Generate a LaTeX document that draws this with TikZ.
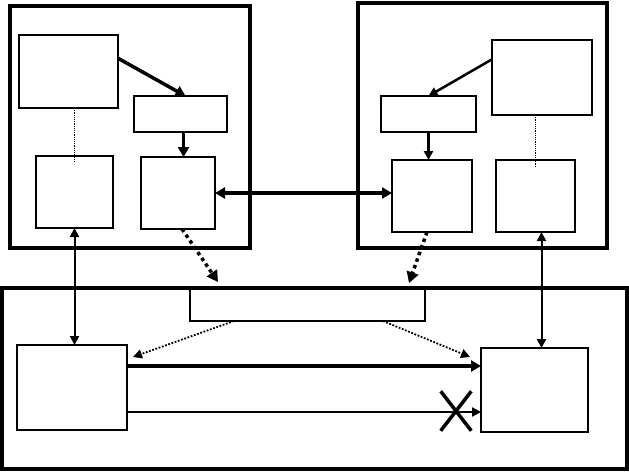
\documentclass[tikz,border=0pt]{standalone}
\usepackage{amsmath, amssymb}
\usepackage{xcolor}
\usetikzlibrary{arrows.meta, shapes.misc}

\begin{document}
\begin{tikzpicture}[x=1pt, y=-1pt,
  box/.style={draw, line width=1.8pt, inner sep=0pt, outer sep=0pt},
  outer/.style={draw, line width=4.5pt, inner sep=0pt, outer sep=0pt},
  bigtip/.style={-{Triangle[width=11pt,length=10pt]}},
  smalltip/.style={-{Triangle[width=9pt,length=9pt]}},
  bothtip/.style={{Triangle[width=9pt,length=9pt]}-{Triangle[width=9pt,length=9pt]}},
  fine dots/.style={line width=1.2pt, dash pattern=on 1.2pt off 1pt}]
\useasboundingbox (0,0) rectangle (629,472);
% the three frames
\node[outer, minimum width=240, minimum height=242] (left) at (130,127) {};
\node[outer, minimum width=249, minimum height=245] (right) at (482.5,125.5) {};
\node[outer, minimum width=625, minimum height=181] (bottom) at (314.5,378.5) {};
% left frame
\node[box, minimum width=99, minimum height=73] (A1) at (68.5,71.5) {};
\node[box, minimum width=93, minimum height=36] (B1) at (180.5,114) {};
\node[box, minimum width=77, minimum height=72] (C1) at (74.5,192) {};
\node[box, minimum width=74, minimum height=72] (D1) at (178,193) {};
% right frame
\node[box, minimum width=100, minimum height=75] (A2) at (542,77.5) {};
\node[box, minimum width=95, minimum height=36] (B2) at (428.5,114) {};
\node[box, minimum width=80, minimum height=72] (D2) at (432,196) {};
\node[box, minimum width=79, minimum height=72] (C2) at (535.5,196) {};
% bottom frame
\node[box, minimum width=235, minimum height=33] (M) at (307.5,304.5) {};
\node[box, minimum width=110, minimum height=85] (L) at (72,387.5) {};
\node[box, minimum width=107, minimum height=84] (R) at (534.5,390) {};
\coordinate (L1) at ([yshift=-21pt]L.north east);
\coordinate (L2) at ([yshift=-67pt]L.north east);
% connectors inside the frames
\draw[bigtip, line width=3.5pt] (A1.15) -- ([xshift=5pt]B1.north);
\draw[bigtip, line width=3.5pt] ([xshift=3pt]B1.south) -- ([xshift=3pt]B1.south |- D1.north);
\draw[{Triangle[width=11pt,length=10pt]}-{Triangle[width=11pt,length=10pt]}, line width=3.5pt] (D1.east) -- (D2.west |- D1.east);
\draw[smalltip, line width=2.5pt] (A2.160) -- (B2.north);
\draw[smalltip, line width=2.5pt] (B2.south) -- (B2.south |- D2.north);
\draw[fine dots] (C1.north |- A1.south) -- ([yshift=-5pt]C1.north);
\draw[fine dots] (C2.north |- A2.south) -- ([yshift=-7pt]C2.north);
% connectors down to the bottom frame
\draw[bothtip, line width=2pt] (C1.south) -- (C1.south |- L.north);
\draw[bothtip, line width=2pt] ([xshift=6pt]C2.south) -- ([xshift=6pt]C2.south |- R.north);
\draw[-{Triangle[width=12pt,length=11pt]}, line width=3.5pt, dash pattern=on 3.5pt off 3.5pt] ([xshift=4pt]D1.south) -- ([shift={(28,-6)}]M.north west);
\draw[-{Triangle[width=12pt,length=11pt]}, line width=3.5pt, dash pattern=on 3.5pt off 3.5pt] ([xshift=-5pt]D2.south) -- ([shift={(-16,-5)}]M.north east);
% bottom frame connectors
\draw[smalltip, line width=1.8pt, dash pattern=on 1.8pt off 1.6pt] ([xshift=44pt]M.south west) -- ([shift={(6,12)}]L.north east);
\draw[smalltip, line width=1.8pt, dash pattern=on 1.8pt off 1.6pt] ([xshift=-42pt]M.south east) -- ([shift={(-11,9)}]R.north west);
\draw[bigtip, line width=4pt] (L1) -- (R.west |- L1);
\draw[smalltip, line width=2.5pt] (L2) -- (R.west |- L2);
\node[cross out, draw, line width=3.5pt, minimum width=27, minimum height=36, inner sep=0pt] (cut) at (456,411) {};
\end{tikzpicture}
\end{document}
